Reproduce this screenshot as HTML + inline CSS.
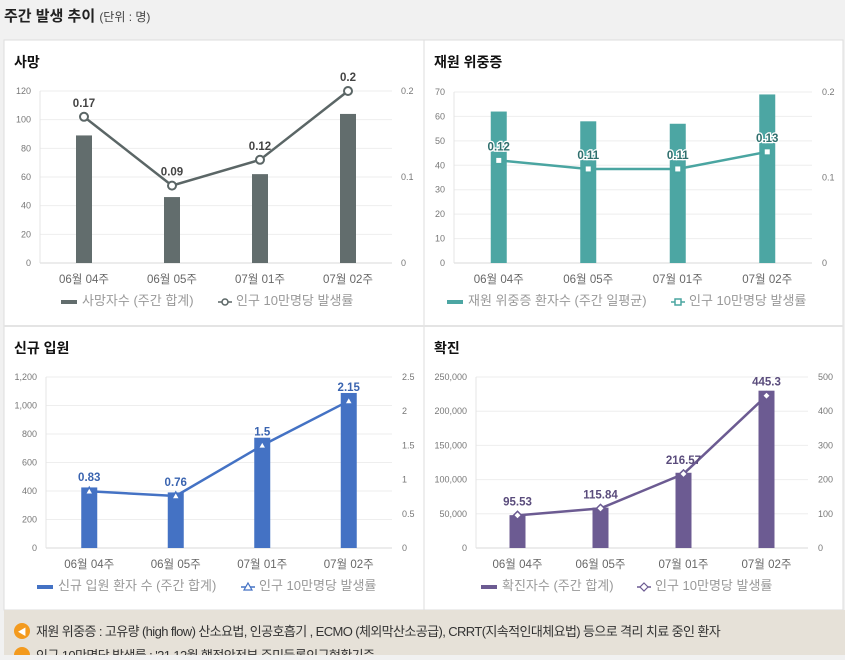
<!DOCTYPE html>
<html><head><meta charset="utf-8"><style>
body{margin:0;width:845px;height:655px;overflow:hidden;background:#f1f1f1;font-family:"Liberation Sans","Noto Sans CJK KR",sans-serif;}
svg text{font-family:"Liberation Sans","Noto Sans CJK KR",sans-serif;}
</style></head><body>
<svg id="s" width="845" height="655" xmlns="http://www.w3.org/2000/svg">
<text x="4" y="21" font-size="15" font-weight="bold" fill="#222">주간 발생 추이 <tspan font-size="12" font-weight="normal" fill="#444">(단위 : 명)</tspan></text>
<rect x="4" y="40" width="839" height="570" fill="#fff" stroke="#ddd"/>
<line x1="424" y1="40" x2="424" y2="610" stroke="#ddd"/>
<line x1="4" y1="326" x2="843" y2="326" stroke="#e4e4e4" stroke-width="2"/>
<rect x="4" y="610" width="841" height="45" fill="#e6e1d8"/>
<circle cx="22" cy="631" r="8" fill="#f39a1e"/>
<text x="22" y="635" font-size="9" fill="#fff" text-anchor="middle">◀</text>
<text x="36" y="636" font-size="13" fill="#333" letter-spacing="-0.6">재원 위중증 : 고유량 (high flow) 산소요법, 인공호흡기 , ECMO (체외막산소공급), CRRT(지속적인대체요법) 등으로 격리 치료 중인 환자</text>
<circle cx="22" cy="655" r="8" fill="#f39a1e"/>
<text x="36" y="660" font-size="13" fill="#333" letter-spacing="-0.6">인구 10만명당 발생률 : '21.12월 행정안전부 주민등록인구현황기준</text>
</svg>
<script>
const categories=["06월 04주","06월 05주","07월 01주","07월 02주"];
const deathBars=[89,46,62,104];
const deathRate=[0.17,0.09,0.12,0.2];
const deathRateLabels=["0.17","0.09","0.12","0.2"];
const deathLeftTicks=[0,20,40,60,80,100,120];
const deathRightTicks=["0","0.1","0.2"];
const icuBars=[62,58,57,69];
const icuRate=[0.12,0.11,0.11,0.13];
const icuRateLabels=["0.12","0.11","0.11","0.13"];
const icuLeftTicks=[0,10,20,30,40,50,60,70];
const icuRightTicks=["0","0.1","0.2"];
const admBars=[425,390,774,1088];
const admRate=[0.83,0.76,1.5,2.15];
const admRateLabels=["0.83","0.76","1.5","2.15"];
const admLeftTicks=["0","200","400","600","800","1,000","1,200"];
const admRightTicks=["0","0.5","1","1.5","2","2.5"];
const confBars=[48000,59000,110000,230000];
const confRate=[95.53,115.84,216.57,445.3];
const confRateLabels=["95.53","115.84","216.57","445.3"];
const confLeftTicks=["0","50,000","100,000","150,000","200,000","250,000"];
const confRightTicks=["0","100","200","300","400","500"];

const svg=document.getElementById('s');
const NS='http://www.w3.org/2000/svg';
function mk(tag,attrs,parent){const e=document.createElementNS(NS,tag);for(const k in attrs)e.setAttribute(k,attrs[k]);(parent||svg).appendChild(e);return e;}
function txt(x,y,s,size,fill,anchor,parent,weight){const t=mk('text',{x:x,y:y,'font-size':size,fill:fill,'text-anchor':anchor||'start'},parent);if(weight)t.setAttribute('font-weight',weight);t.textContent=s;return t;}

function chart(c){
  const g=mk('g',{});
  
  
  const t=txt(c.px+10,c.py+27,c.title,14,'#111','start',g,'bold');
  
  
  const yL=v=>c.y0-(v/c.lmax)*(c.y0-c.y1);
  const yR=v=>c.y0-(v/c.rmax)*(c.y0-c.y1);
  const step=(c.x1-c.x0)/categories.length;
  const xC=i=>c.x0+step*(i+0.5);
  const nL=c.lticks.length;
  c.lticks.forEach((lab,i)=>{
    const y=c.y0-(c.y0-c.y1)*i/(nL-1);
    mk('line',{x1:c.x0,x2:c.x1,y1:y,y2:y,stroke:i==0?'#d9d9d9':'#eeeeee'},g);
    const tl=txt(c.x0-9,y+3,String(lab),9,'#777','end',g);
    
    
  });
  mk('line',{x1:c.x0,x2:c.x0,y1:c.y1,y2:c.y0,stroke:'#e4e4e4'},g);
  const nR=c.rticks.length;
  c.rticks.forEach((lab,i)=>{
    const y=c.y0-(c.y0-c.y1)*i/(nR-1);
    const tr=txt(c.rx,y+3,lab,9,'#777','start',g);
    
    
  });
  categories.forEach((cat,i)=>{
    const tx=txt(xC(i),c.y0+20,cat,11.5,'#666','middle',g);
    
    
  });
  c.bars.forEach((v,i)=>{
    const b=mk('rect',{x:xC(i)-c.bw/2,y:yL(v),width:c.bw,height:c.y0-yL(v),fill:c.color},g);
    
    
  });
  const pts=c.rate.map((v,i)=>xC(i)+','+yR(v)).join(' ');
  const pl=mk('polyline',{points:pts,fill:'none',stroke:c.lcolor,'stroke-width':2.5},g);
  
  
  c.rate.forEach((v,i)=>{
    const x=xC(i),y=yR(v);let m;
    if(c.marker=='circle')m=mk('circle',{cx:x,cy:y,r:4,fill:'#fff',stroke:c.lcolor,'stroke-width':2},g);
    else if(c.marker=='square')m=mk('rect',{x:x-3.5,y:y-3.5,width:7,height:7,fill:'#fff',stroke:c.lcolor,'stroke-width':2},g);
    else if(c.marker=='tri')m=mk('polygon',{points:`${x},${y-4} ${x+4},${y+3} ${x-4},${y+3}`,fill:'#fff',stroke:c.lcolor,'stroke-width':1.5},g);
    else m=mk('polygon',{points:`${x},${y-4} ${x+4},${y} ${x},${y+4} ${x-4},${y}`,fill:'#fff',stroke:c.lcolor,'stroke-width':1.5},g);
    
    
    const lb=txt(x,y-10,c.rateLabels[i],11.5,c.tcolor,'middle',g,'bold');
    if(c.halo){lb.setAttribute('stroke','#fff');lb.setAttribute('stroke-width','2.5');lb.setAttribute('paint-order','stroke');}
    
    
  });
  // legend
  const lg=mk('g',{},g);
  
  
  const ly=c.y0+41;
  mk('rect',{x:c.lgx,y:ly-4,width:16,height:4,fill:c.color},lg);
  const l1=txt(c.lgx+21,ly+1,c.leg1,13,'#999','start',lg);
  
  
  const mx=c.lgx2;
  mk('line',{x1:mx-7,x2:mx+7,y1:ly-2,y2:ly-2,stroke:c.lcolor,'stroke-width':1.5},lg);
  if(c.marker=='circle')mk('circle',{cx:mx,cy:ly-2,r:3,fill:'#fff',stroke:c.lcolor,'stroke-width':1.5},lg);
  else if(c.marker=='square')mk('rect',{x:mx-3,y:ly-5,width:6,height:6,fill:'#fff',stroke:c.lcolor,'stroke-width':1.5},lg);
  else if(c.marker=='tri')mk('polygon',{points:`${mx},${ly-6} ${mx+4},${ly+1} ${mx-4},${ly+1}`,fill:'#fff',stroke:c.lcolor,'stroke-width':1.2},lg);
  else mk('polygon',{points:`${mx},${ly-6} ${mx+4},${ly-2} ${mx},${ly+2} ${mx-4},${ly-2}`,fill:'#fff',stroke:c.lcolor,'stroke-width':1.2},lg);
  const l2=txt(mx+11,ly+1,'인구 10만명당 발생률',13,'#999','start',lg);
  
  
}

chart({name:'death-chart',title:'사망',px:4,py:40,x0:40,x1:392,y0:263,y1:91,lmax:120,rmax:0.2,rx:401,
  lticks:deathLeftTicks,rticks:deathRightTicks,bars:deathBars,rate:deathRate,rateLabels:deathRateLabels,
  color:'#626d6d',lcolor:'#5b6666',tcolor:'#444',marker:'circle',bw:16,lgx:61,lgx2:225,leg1:'사망자수 (주간 합계)'});
chart({name:'icu-chart',title:'재원 위중증',px:424,py:40,x0:454,x1:812,y0:263,y1:92,lmax:70,rmax:0.2,rx:822,
  lticks:icuLeftTicks,rticks:icuRightTicks,bars:icuBars,rate:icuRate,rateLabels:icuRateLabels,
  color:'#4ca6a3',lcolor:'#4aa5a1',tcolor:'#2f6f6d',marker:'square',bw:16,lgx:447,lgx2:678,leg1:'재원 위중증 환자수 (주간 일평균)',halo:true});
chart({name:'admission-chart',title:'신규 입원',px:4,py:326,x0:46,x1:392,y0:548,y1:377,lmax:1200,rmax:2.5,rx:402,
  lticks:admLeftTicks,rticks:admRightTicks,bars:admBars,rate:admRate,rateLabels:admRateLabels,
  color:'#4472c4',lcolor:'#4472c4',tcolor:'#3a64b0',marker:'tri',bw:16,lgx:37,lgx2:248,leg1:'신규 입원 환자 수 (주간 합계)'});
chart({name:'confirmed-chart',title:'확진',px:424,py:326,x0:476,x1:808,y0:548,y1:377,lmax:250000,rmax:500,rx:818,
  lticks:confLeftTicks,rticks:confRightTicks,bars:confBars,rate:confRate,rateLabels:confRateLabels,
  color:'#6c5b92',lcolor:'#6c5b92',tcolor:'#5a4c7c',marker:'diamond',bw:16,lgx:481,lgx2:644,leg1:'확진자수 (주간 합계)'});
</script>
</body></html>
